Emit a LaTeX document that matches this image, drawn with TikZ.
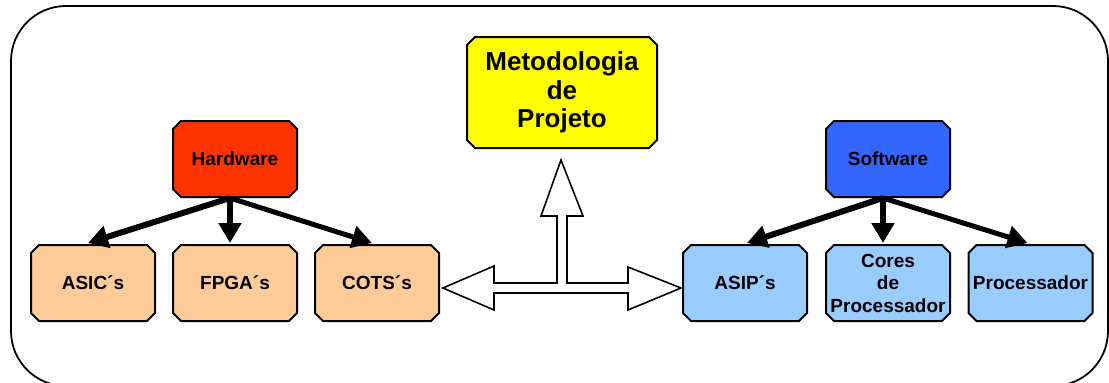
\documentclass[tikz,border=0pt]{standalone}
\usepackage{fontspec}
\setmainfont{Liberation Sans}
\usetikzlibrary{arrows.meta,shapes.misc,calc}

\definecolor{hwred}{HTML}{FF3300}
\definecolor{hwpeach}{HTML}{FFCC99}
\definecolor{swblue}{HTML}{3366FF}
\definecolor{swlight}{HTML}{99CCFF}
\definecolor{methyellow}{HTML}{FFFF00}

\begin{document}
\begin{tikzpicture}[x=1pt,y=-1pt,
  box/.style={chamfered rectangle, chamfered rectangle xsep=4pt,
    chamfered rectangle ysep=4pt, draw=black, line width=2pt,
    minimum width=124pt, minimum height=76pt, inner sep=0pt,
    align=center, font=\fontsize{19}{22.5}\selectfont\bfseries},
  hwtop/.style={box, fill=hwred},
  hwleaf/.style={box, fill=hwpeach},
  swtop/.style={box, fill=swblue},
  swleaf/.style={box, fill=swlight},
  branch/.style={line width=5pt, -{Triangle[length=20pt,width=22pt]}},
  blockarrow/.style={draw=black, fill=white, line width=1.6pt, line join=miter},
  frame/.style={draw=black, line width=1.8pt, rounded corners=55pt}]

\useasboundingbox (0,0) rectangle (1109,383);

% outer frame
\draw[frame] (11,6) rectangle (1108,386);

% central methodology box
\node[box, fill=methyellow, minimum width=190pt, minimum height=111pt,
  font=\fontsize{26}{28.5}\selectfont\bfseries] (meth) at (562,92.5)
  {Metodologia\\de\\Projeto};

% hardware branch
\node[hwtop]  (hw)   at (235,159) {Hardware};
\node[hwleaf] (asic) at (93,283)  {ASIC´s};
\node[hwleaf] (fpga) at (235,283) {FPGA´s};
\node[hwleaf] (cots) at (377,283) {COTS´s};

% software branch
\node[swtop]  (sw)    at (888,159)    {Software};
\node[swleaf] (asip)  at (745,283)    {ASIP´s};
\node[swleaf] (cores) at (888,283)    {Cores\\de\\Processador};
\node[swleaf] (proc)  at (1030.5,283) {Processador};

% tree arrows
\coordinate (hwfoot) at ($(hw.south)+(-5,0)$);
\coordinate (swfoot) at ($(sw.south)+(-5,0)$);
\draw[branch, line width=6pt] (hwfoot) -- ($(asic.north)+(-5,-1)$);
\draw[branch, line width=6pt] (hwfoot) -- ($(fpga.north)+(-5,-1)$);
\draw[branch] (hwfoot) -- ($(cots.north)+(-5,-1)$);
\draw[branch, line width=6pt] (swfoot) -- ($(asip.north)+(2,-1)$);
\draw[branch, line width=5.5pt] (swfoot) -- ($(cores.north)+(-5,-1)$);
\draw[branch] (swfoot) -- ($(proc.north)+(-3,-1)$);

% three-way block arrow between the groups and the methodology
\coordinate (L) at ($(cots.east)+(3,5)$);
\coordinate (R) at ($(asip.west)+(-1,5)$);
\coordinate (U) at ($(meth.south)+(-1,11)$);
\draw[blockarrow] (L) -- ++(51,-22) -- ++(0,17) -| ($(U)+(-4,56)$)
  -- ++(-16,0) -- (U) -- ++(22,56) -- ++(-16,0) |- ($(R)+(-53,-5)$)
  -- ++(0,-16) -- (R) -- ++(-53,22) -- ++(0,-17) -- ($(L)+(51,5)$)
  -- ++(0,17) -- cycle;

\end{tikzpicture}
\end{document}
